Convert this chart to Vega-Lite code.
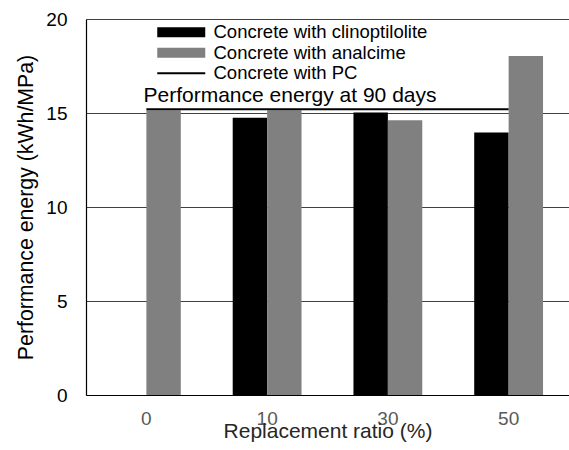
{
  "$schema": "https://vega.github.io/schema/vega-lite/v6.json",
  "width": 483,
  "height": 376,
  "autosize": {"type": "none"},
  "padding": {"left": 86, "top": 19, "right": 0, "bottom": 55},
  "config": {
    "view": {"stroke": null},
    "font": "Liberation Sans"
  },
  "data": {
    "values": [
      {"ratio": "0", "series": "Concrete with analcime", "value": 15.15},
      {"ratio": "10", "series": "Concrete with clinoptilolite", "value": 14.75},
      {"ratio": "10", "series": "Concrete with analcime", "value": 15.15},
      {"ratio": "30", "series": "Concrete with clinoptilolite", "value": 15.03},
      {"ratio": "30", "series": "Concrete with analcime", "value": 14.62},
      {"ratio": "50", "series": "Concrete with clinoptilolite", "value": 13.96},
      {"ratio": "50", "series": "Concrete with analcime", "value": 18.03},
      {"ratio": "0", "series": "Concrete with PC", "value": 15.2},
      {"ratio": "10", "series": "Concrete with PC", "value": 15.2},
      {"ratio": "30", "series": "Concrete with PC", "value": 15.2},
      {"ratio": "50", "series": "Concrete with PC", "value": 15.2}
    ]
  },
  "encoding": {
    "x": {
      "field": "ratio",
      "type": "ordinal",
      "sort": ["0", "10", "30", "50"],
      "scale": {"paddingInner": 0.43, "paddingOuter": 0.215},
      "axis": {
        "title": "Replacement ratio (%)",
        "titleFontSize": 21,
        "titleFontWeight": "normal",
        "titleColor": "#262626",
        "titleBaseline": "alphabetic",
        "titleY": 42,
        "labelAngle": 0,
        "labelFontSize": 19,
        "labelColor": "#595959",
        "labelPadding": 14,
        "ticks": false,
        "domainColor": "#000000",
        "domainWidth": 1.2
      }
    },
    "y": {
      "field": "value",
      "type": "quantitative",
      "scale": {"domain": [0, 20], "nice": false},
      "axis": {
        "title": "Performance energy (kWh/MPa)",
        "titleFontSize": 21.3,
        "titleFontWeight": "normal",
        "titleColor": "#000000",
        "titlePadding": 9,
        "values": [0, 5, 10, 15, 20],
        "labelFontSize": 19,
        "labelColor": "#000000",
        "labelPadding": 19,
        "ticks": false,
        "domainColor": "#000000",
        "domainWidth": 1.2,
        "grid": true,
        "gridColor": "#404040",
        "gridWidth": 1,
        "gridOpacity": 1
      }
    },
    "color": {
      "field": "series",
      "type": "nominal",
      "scale": {
        "domain": ["Concrete with clinoptilolite", "Concrete with analcime", "Concrete with PC"],
        "range": ["#000000", "#808080", "#000000"]
      },
      "legend": {
        "title": "Performance energy at 90 days",
        "orient": "none",
        "legendX": 58,
        "legendY": 4,
        "padding": 0,
        "titleOrient": "bottom",
        "titleAnchor": "middle",
        "titleFontSize": 21,
        "titleFontWeight": "normal",
        "titleColor": "#000000",
        "titlePadding": 2,
        "titleLimit": 500,
        "labelFontSize": 18.5,
        "labelColor": "#000000",
        "labelOffset": 42,
        "labelLimit": 400,
        "symbolSize": 100,
        "symbolType": "M-1,-1H8.6V1H-1Z",
        "symbolStrokeWidth": 0,
        "rowPadding": 1.5,
        "encode": {
          "symbols": {
            "update": {
              "shape": {"signal": "datum.value === 'Concrete with PC' ? 'M-1,-0.2H8.6V0.2H-1Z' : 'M-1,-1H8.6V1H-1Z'"},
              "fill": {"scale": "color", "field": "value"},
              "fillOpacity": {"value": 1},
              "strokeWidth": {"value": 0}
            }
          }
        }
      }
    }
  },
  "layer": [
    {
      "transform": [{"filter": "datum.series !== 'Concrete with PC'"}],
      "mark": {"type": "bar"},
      "encoding": {
        "xOffset": {
          "field": "series",
          "type": "nominal",
          "sort": ["Concrete with clinoptilolite", "Concrete with analcime"]
        }
      }
    },
    {
      "transform": [{"filter": "datum.series === 'Concrete with PC'"}],
      "mark": {"type": "line", "strokeWidth": 2}
    }
  ]
}
